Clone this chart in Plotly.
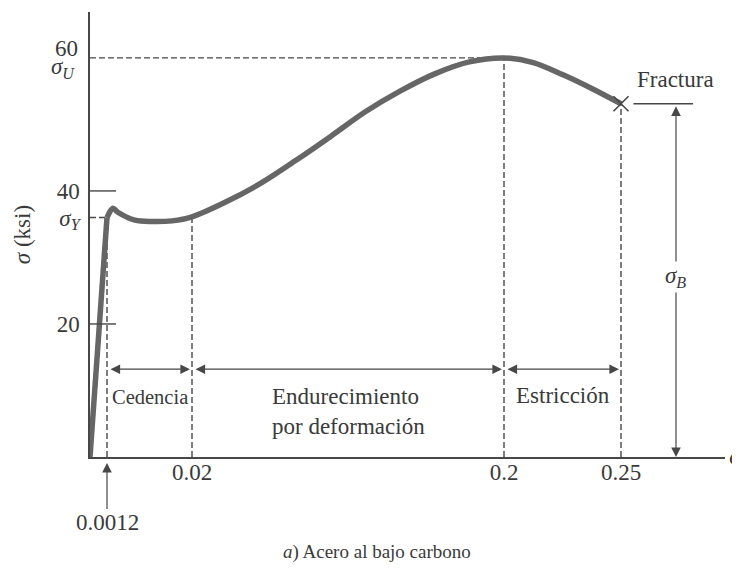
import numpy as np
import plotly.graph_objects as go

# ---------------- data ----------------
strain = [0.0, 0.0012, 0.0025, 0.0036, 0.0074, 0.0111, 0.0156, 0.020,
          0.04, 0.06, 0.08, 0.10, 0.12, 0.14, 0.16, 0.18, 0.20,
          0.2125, 0.225, 0.2375, 0.25]
stress_ksi = [0.0, 36.0, 37.4, 36.8, 35.6, 35.4, 35.5, 36.1,
              38.4, 41.2, 44.6, 48.2, 51.9, 55.0, 57.6, 59.4, 60.0,
              59.3, 57.5, 55.4, 53.1]

sigma_Y = 36.0          # yield stress, ksi
sigma_U = 60.0          # ultimate stress, ksi
sigma_F = 53.1          # fracture stress, ksi
eps_Y = 0.0012
eps_hard = 0.02
eps_U = 0.2
eps_F = 0.25

x_tick_strains = [0.02, 0.2, 0.25]
x_tick_labels = ["0.02", "0.2", "0.25"]
y_tick_vals = [20, 40, 36]
y_tick_labels = ["20", "40", "<i>σ</i><sub><i>Y</i></sub>"]

region_labels = ["Cedencia", "Endurecimiento<br>por deformación", "Estricción"]

# The strain axis of this diagram is drawn "not to scale":
# piecewise-linear schematic scale between the marked strains.
scale_strain = [0.0, 0.0012, 0.02, 0.2, 0.25, 0.30]
scale_pos = [0.0, 17.0, 102.0, 414.0, 531.0, 648.0]


def sx(e):
    return np.interp(e, scale_strain, scale_pos)


FONT = "Liberation Serif"
TXT = "#3a3a3a"
LINE = "#474747"
CURVE = "#666666"
FS = 23
Y_MAX = 66.9

fig = go.Figure()

# elastic part (straight) and plastic part (smooth) of the stress-strain curve
n_el = strain.index(eps_Y) + 1
fig.add_trace(go.Scatter(
    x=sx(strain[:n_el]), y=stress_ksi[:n_el], mode="lines",
    line=dict(color=CURVE, width=5.5),
    hoverinfo="skip", showlegend=False))
fig.add_trace(go.Scatter(
    x=sx(strain[n_el - 1:]), y=stress_ksi[n_el - 1:], mode="lines",
    line=dict(color=CURVE, width=5.5, shape="spline", smoothing=0.9),
    hoverinfo="skip", showlegend=False))

# fracture mark
fig.add_trace(go.Scatter(
    x=[sx(eps_F)], y=[sigma_F], mode="markers",
    marker=dict(symbol="x-thin", size=15, line=dict(color=LINE, width=1.6)),
    hoverinfo="skip", showlegend=False))

dash = dict(color=LINE, width=1.4, dash="6px,3px")
curve_at_hard = float(np.interp(eps_hard, strain, stress_ksi))
for e, top in [(eps_Y, sigma_Y), (eps_hard, curve_at_hard), (eps_U, sigma_U), (eps_F, sigma_F)]:
    fig.add_shape(type="line", x0=sx(e), x1=sx(e), y0=0, y1=top, line=dash, layer="below")
fig.add_shape(type="line", x0=0, x1=sx(eps_U), y0=sigma_U, y1=sigma_U, line=dash, layer="below")
fig.add_shape(type="line", x0=0, x1=sx(eps_Y), y0=sigma_Y, y1=sigma_Y, line=dash, layer="below")

# short inside tick lines at 20 and 40
for v in [20, 40]:
    fig.add_shape(type="line", xref="x", yref="y", x0=0, x1=26, y0=v, y1=v,
                  line=dict(color=LINE, width=1.4))

# fracture reference line
eps_B = 0.2735
fig.add_shape(type="line", x0=sx(0.2553), x1=sx(0.2808), y0=sigma_F, y1=sigma_F,
              line=dict(color=LINE, width=1.4))

ann = []
arrow_y = 13.2
bounds = [(eps_Y, eps_hard), (eps_hard, eps_U), (eps_U, eps_F)]
for (a, b) in bounds:
    ann.append(dict(x=sx(b), y=arrow_y, ax=sx(a), ay=arrow_y, axref="x", ayref="y",
                    xref="x", yref="y", text="", showarrow=True,
                    arrowhead=2, arrowsize=1.6, arrowwidth=1.2, arrowcolor=LINE,
                    arrowside="end+start", standoff=2, startstandoff=2))

label_y = [9.0, 6.9, 9.2]
sizes = [20.5, FS, FS]
for (a, b), txt, ly, fs in zip(bounds, region_labels, label_y, sizes):
    ann.append(dict(x=(sx(a) + sx(b)) / 2, y=ly, xref="x", yref="y", text=txt,
                    showarrow=False, align="left",
                    font=dict(family=FONT, size=fs, color=TXT)))

# 60 / sigma_U labels stacked around the ultimate-stress line
ann.append(dict(x=0, y=sigma_U, xref="paper", yref="y", xanchor="right",
                yanchor="middle", xshift=-10, yshift=9, text="60", showarrow=False,
                font=dict(family=FONT, size=FS, color=TXT)))
ann.append(dict(x=0, y=sigma_U, xref="paper", yref="y", xanchor="right",
                yanchor="middle", xshift=-13, yshift=-10,
                text="<i>σ</i><sub><i>U</i></sub>", showarrow=False,
                font=dict(family=FONT, size=FS, color=TXT)))

# sigma_B double arrow
ann.append(dict(x=sx(eps_B), y=0, ax=sx(eps_B), ay=sigma_F, axref="x", ayref="y",
                xref="x", yref="y", text="", showarrow=True,
                arrowhead=2, arrowsize=1.6, arrowwidth=1.2, arrowcolor=LINE,
                arrowside="end+start", standoff=0, startstandoff=1))
ann.append(dict(x=sx(eps_B), y=27.1, xref="x", yref="y",
                text="<i>σ</i><sub><i>B</i></sub>", showarrow=False, bgcolor="white",
                font=dict(family=FONT, size=FS, color=TXT)))
ann.append(dict(x=sx(eps_B), y=56.7, xref="x", yref="y", text="Fractura",
                showarrow=False, font=dict(family=FONT, size=FS, color=TXT)))

# 0.0012 label with arrow (below the axis -> paper y reference)
ann.append(dict(x=sx(eps_Y), y=-0.9 / Y_MAX, xref="x", yref="paper", text="0.0012",
                showarrow=True, ax=0, ay=60, arrowhead=2, arrowsize=1.6,
                arrowwidth=1.2, arrowcolor=LINE, standoff=0,
                font=dict(family=FONT, size=FS, color=TXT)))

# epsilon axis symbol (partly cut by the right edge, as in the original)
ann.append(dict(x=1.0, y=0, xref="paper", yref="paper", xanchor="left",
                yanchor="middle", xshift=2, text="<i>ϵ</i>", showarrow=False,
                font=dict(family="DejaVu Serif", size=20, color=TXT)))

# caption
ann.append(dict(x=0.452, y=-0.2135, xref="paper", yref="paper",
                text="<i>a</i>) Acero al bajo carbono", showarrow=False,
                yanchor="middle", font=dict(family=FONT, size=19, color=TXT)))

# the page body adds an 8px offset, so the margins compensate for it
fig.update_layout(
    width=740, height=572,
    margin=dict(l=82, r=23, t=4, b=123),
    paper_bgcolor="white", plot_bgcolor="white",
    showlegend=False,
    annotations=ann,
    font=dict(family=FONT, size=FS, color=TXT),
    xaxis=dict(range=[0, 635], showgrid=False, zeroline=False, showline=True,
               linecolor=LINE, linewidth=1.5, ticks="", automargin=False,
               tickvals=list(sx(x_tick_strains)), ticktext=x_tick_labels,
               ticklabelstandoff=-6,
               tickfont=dict(family=FONT, size=FS, color=TXT)),
    yaxis=dict(range=[0, Y_MAX], showgrid=False, zeroline=False, showline=True,
               linecolor=LINE, linewidth=1.5, ticks="", automargin=False,
               tickvals=y_tick_vals, ticktext=y_tick_labels, ticklabelstandoff=4,
               tickfont=dict(family=FONT, size=FS, color=TXT),
               title=dict(text="<i>σ</i> (ksi)", standoff=20,
                          font=dict(family=FONT, size=FS, color=TXT))),
)

fig.write_html("out.html")
